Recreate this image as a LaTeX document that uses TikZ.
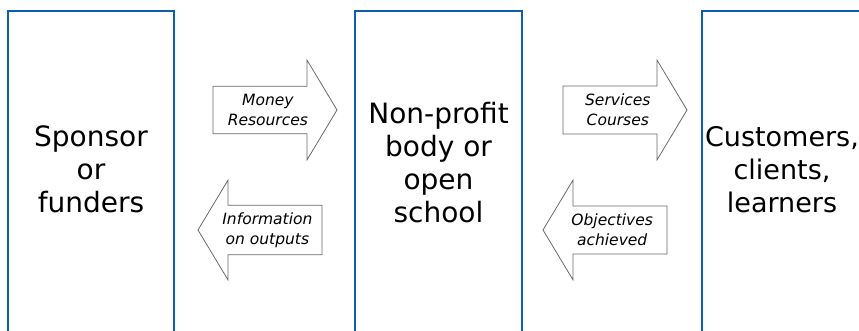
\documentclass[tikz,border=0pt]{standalone}
\usepackage{fontspec}
\setmainfont{DejaVu Sans}
\usetikzlibrary{shapes.arrows, positioning}
\definecolor{boxblue}{RGB}{12,94,174}
\definecolor{arrowgrey}{RGB}{105,105,105}

\begin{document}
\begin{tikzpicture}[x=1pt, y=-1pt]
		\tikzset {party/.style={draw=boxblue, line width=2pt, outer sep=0pt, minimum width=166pt, minimum height=340pt, anchor=north west},
			partytext/.style={align=center, font=\fontsize{28}{33}\selectfont},
			flow/.style={single arrow, draw=arrowgrey, line width=0.8pt, minimum width=100pt, minimum height=124pt, single arrow head extend=25pt, single arrow tip angle=118, inner xsep=2pt, inner ysep=6.5pt, outer sep=0pt, anchor=tail, align=center, font=\fontsize{15.5}{20}\selectfont\itshape} }

		\clip (0,0) rectangle (859,331);

		\node[party] (sponsor) at (8,11) {};
		\node[party, minimum width=167pt] (school) at (355,11) {};
		\node[party] (learners) at (702,11) {};

		\node[partytext] (sponsortext) at (91,169.8) {Sponsor\\or\\funders};
		\node[partytext] (schooltext) at (438.5,162.4) {Non-profit\\body or\\open\\school};
		\node[partytext, font=\fontsize{27}{33}\selectfont] (learnerstext) at (782,169.8) {Customers,\\clients,\\learners};

		\node[flow] (money) at (213,110) {Money\\Resources};
		\node[flow, shape border rotate=180] (info) at (322,230) {Information\\on outputs};
		\node[flow] (services) at (563,110) {Services\\Courses};
		\node[flow, shape border rotate=180] (objectives) at (667,230) {Objectives\\achieved};
	\end{tikzpicture}
\end{document}
